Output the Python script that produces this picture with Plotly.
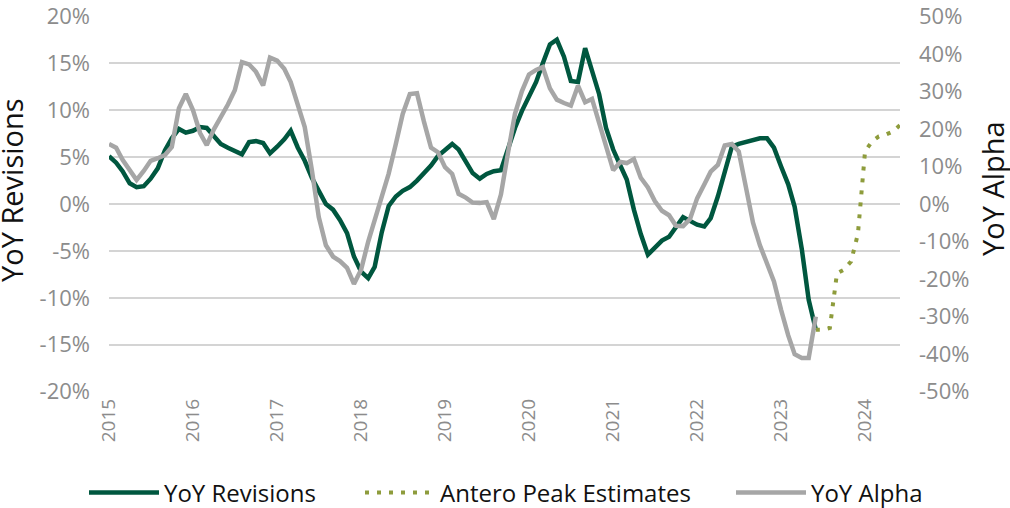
import pandas as pd
import plotly.graph_objects as go

# ---- data (monthly) ----
start_month = "2015-01-01"

revisions = [5.1, 4.4, 3.5, 2.2, 1.8, 1.9, 2.7, 3.8, 5.7, 7.0, 8.0, 7.6,
             7.8, 8.2, 8.1, 7.3, 6.4, 6.0, 5.6, 5.3, 6.6, 6.7, 6.5, 5.4,
             6.1, 6.9, 7.8, 6.0, 4.6, 2.8, 1.4, 0.0, -0.6, -1.7, -3.1, -5.6,
             -7.2, -7.9, -6.7, -3.0, -0.2, 0.8, 1.4, 1.8, 2.5, 3.3, 4.1, 5.1,
             5.8, 6.4, 5.8, 4.6, 3.3, 2.7, 3.2, 3.5, 3.6, 5.8, 8.1, 9.9,
             11.5, 13.0, 15.0, 17.0, 17.5, 15.7, 13.1, 13.0, 16.6, 14.2, 11.7, 8.1,
             5.8, 4.1, 2.6, -0.6, -3.2, -5.4, -4.6, -3.9, -3.5, -2.5, -1.4, -1.8,
             -2.2, -2.4, -1.5, 0.8, 3.3, 6.1, 6.4, 6.6, 6.9, 7.0, 7.0, 6.0,
             4.0, 2.1, -0.3, -4.8, -10.2, -13.4]

alpha = [16.0, 15.0, 11.8, 9.0, 6.4, 8.8, 11.5, 12.2, 13.0, 15.2, 25.5, 29.3,
         25.0, 18.9, 15.7, 19.9, 23.0, 26.5, 30.3, 37.8, 37.2, 35.2, 31.6, 39.0,
         38.2, 36.0, 32.5, 26.0, 20.5, 9.0, -3.5, -11.0, -14.0, -15.2, -17.0, -21.3,
         -17.5, -10.0, -4.0, 1.8, 8.1, 16.0, 24.0, 29.3, 29.5, 22.0, 15.0, 13.8,
         9.8, 8.0, 2.7, 1.7, 0.4, 0.3, 0.5, -4.0, 2.5, 13.4, 24.0, 30.0,
         34.5, 35.7, 36.5, 30.8, 27.8, 26.9, 26.2, 31.5, 27.1, 28.0, 21.5, 16.0,
         9.0, 11.2, 10.9, 12.0, 7.0, 4.4, 0.8, -1.8, -3.0, -5.8, -5.9, -4.0,
         1.5, 5.2, 8.6, 10.4, 15.6, 16.0, 14.0, 4.5, -5.0, -11.0, -16.0, -20.6,
         -28.2, -35.0, -40.0, -41.0, -41.0, -30.0]

estimate_start = "2023-06-01"
antero = [-33.5, -33.5, -33.0, -18.5, -17.5, -15.3, -8.0, 14.0, 16.7, 18.0,
          18.5, 19.3, 21.0]

left_ticks = [20, 15, 10, 5, 0, -5, -10, -15, -20]
left_labels = ["20%", "15%", "10%", "5%", "0%", "-5%", "-10%", "-15%", "-20%"]
right_ticks = [50, 40, 30, 20, 10, 0, -10, -20, -30, -40, -50]
right_labels = ["50%", "40%", "30%", "20%", "10%", "0%", "-10%", "-20%",
                "-30%", "-40%", "-50%"]

rev_dates = pd.date_range(start_month, periods=len(revisions), freq="MS")
alpha_dates = pd.date_range(start_month, periods=len(alpha), freq="MS")
est_dates = pd.date_range(estimate_start, periods=len(antero), freq="MS")

GREEN = "#00573F"
OLIVE = "#8E9C3C"
GREY = "#A6A6A6"
TICK = "#8C8C8C"
FONT = "Open Sans"

fig = go.Figure()
fig.add_trace(go.Scatter(x=rev_dates, y=revisions, name="YoY Revisions",
                         mode="lines", line=dict(color=GREEN, width=4.5),
                         yaxis="y", legendwidth=191))
fig.add_trace(go.Scatter(x=est_dates, y=antero, name="Antero Peak Estimates",
                         mode="lines",
                         line=dict(color=OLIVE, width=4, dash="4px,8px"),
                         yaxis="y2", legendwidth=286))
fig.add_trace(go.Scatter(x=alpha_dates, y=alpha, name="YoY Alpha",
                         mode="lines", line=dict(color=GREY, width=4.5),
                         yaxis="y2", legendwidth=116))

fig.update_layout(
    width=1010, height=508, autosize=False,
    margin=dict(l=109, r=110, t=16, b=116, autoexpand=False),
    paper_bgcolor="white", plot_bgcolor="white",
    font=dict(family=FONT, color=TICK, size=20),
    xaxis=dict(type="date", range=["2015-01-01", "2024-06-01"],
               tick0="2015-01-01", dtick="M12", tickformat="%Y",
               tickangle=-90, showgrid=False, zeroline=False, showline=False,
               ticks="", tickfont=dict(size=19, color=TICK),
               ticklabelstandoff=2, automargin=False,
               ticklabeloverflow="allow"),
    yaxis=dict(range=[-20.03, 20.03], tickvals=left_ticks,
               ticktext=left_labels,
               showgrid=True, gridcolor="#D4D4D4", gridwidth=1.5,
               zeroline=False, showline=False, ticks="",
               tickfont=dict(size=22, color=TICK), ticklabelstandoff=18,
               automargin=False, ticklabeloverflow="allow"),
    yaxis2=dict(range=[-50.075, 50.075], tickvals=right_ticks,
                ticktext=right_labels,
                overlaying="y", side="right", showgrid=False, zeroline=False,
                showline=False, ticks="",
                tickfont=dict(size=22, color=TICK), ticklabelstandoff=18,
                automargin=False, ticklabeloverflow="allow"),
    legend=dict(orientation="h", x=(932 - 109) / 791, xanchor="right",
                y=-(493 - 392) / 376, yanchor="middle",
                font=dict(size=24, color="#111111"),
                itemwidth=70, traceorder="normal"),
    showlegend=True,
    annotations=[
        dict(text="YoY Revisions", xref="paper", yref="paper",
             x=(11 - 109) / 791, y=(392 - 190) / 376, textangle=-90,
             showarrow=False, xanchor="center", yanchor="middle",
             font=dict(size=29, color="#111111")),
        dict(text="YoY Alpha", xref="paper", yref="paper",
             x=(992 - 109) / 791, y=(392 - 188) / 376, textangle=-90,
             showarrow=False, xanchor="center", yanchor="middle",
             font=dict(size=29, color="#111111")),
    ],
)

fig.write_html("out.html", config={"displayModeBar": False},
               post_script="document.body.style.margin = '0px';")
